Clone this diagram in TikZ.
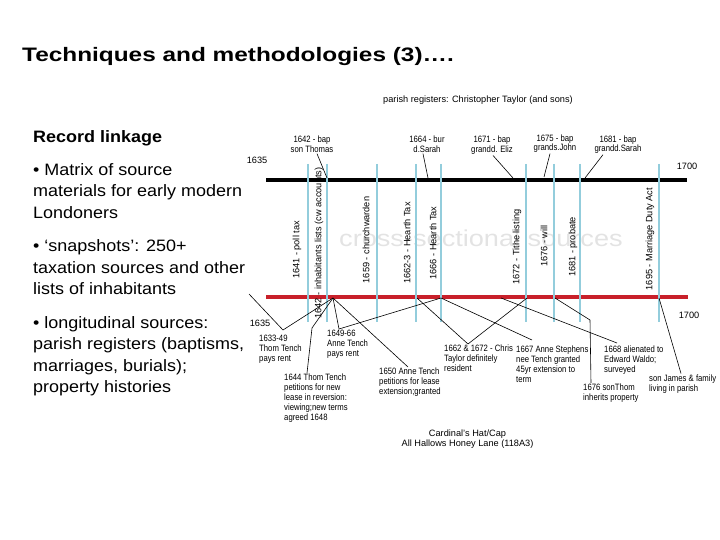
\documentclass[tikz,border=0pt]{standalone}
\usepackage{fontspec}
\setmainfont{Liberation Sans}
\newfontfamily\widefont[FakeStretch=1.09]{Liberation Sans}
\newfontfamily\titlefont[FakeStretch=1.25]{Liberation Sans}
\newfontfamily\markfont[FakeStretch=1.18]{Liberation Sans}
\newfontfamily\notefam[FakeStretch=0.84]{Liberation Sans}
\usetikzlibrary{positioning}
\definecolor{srcblue}{HTML}{93CDDC}
\definecolor{barred}{HTML}{C8202A}

\begin{document}
\begin{tikzpicture}[x=1pt, y=-1pt,
  every node/.style={inner sep=0pt},
  heading/.style={font=\titlefont\bfseries\fontsize{19.5}{23}\selectfont, anchor=base west},
  body/.style={font=\widefont\fontsize{16.5}{21.5}\selectfont, align=left, anchor=north west},
  note/.style={font=\notefam\fontsize{9.2}{10}\selectfont, inner sep=1pt, align=left, anchor=north west},
  topnote/.style={note, font=\notefam\fontsize{9.2}{9.5}\selectfont, align=center, anchor=north},
  yearlbl/.style={font=\fontsize{9.2}{10}\selectfont},
  srcline/.style={draw=srcblue, line width=2pt},
  barline/.style={line width=4.5pt},
  leader/.style={line width=0.6pt},
]
\useasboundingbox (0,0) rectangle (720,540);

% left column
\node[heading] (title) at (22,62) {Techniques and methodologies (3)….};
\node[heading, font=\widefont\bfseries\fontsize{16.5}{20}\selectfont] (rec) at (33,143) {Record linkage};
\node[body] (p1) at (33,163) {• Matrix of source\\materials for early modern\\Londoners};
\node[body, below right=21pt and 0pt of p1.south west] (p2) {• ‘snapshots’: 250+\\taxation sources and other\\lists of inhabitants};
\node[body, below right=21pt and 0pt of p2.south west] (p3) {• longitudinal sources:\\parish registers (baptisms,\\marriages, burials);\\property histories};

% timeline
\node[font=\markfont\fontsize{23}{26}\selectfont, text=black!11] (mark) at (481,238) {cross-sectional sources};
\node[yearlbl] (reg) at (478,100) {parish registers: Christopher Taylor (and sons)};
\draw[barline, black] (266,180) -- (687,180);
\draw[barline, barred] (266,297) -- (688,297);
\node[yearlbl] (y1) at (257,160) {1635};
\node[yearlbl] (y2) at (687,166) {1700};
\node[yearlbl] (y3) at (260,323) {1635};
\node[yearlbl] (y4) at (689,315) {1700};

\foreach \xl/\xs/\yc/\txt [count=\i] in {297/308/250/{1641 - poll tax},
    319/327/243/{1642 - inhabitants lists (cw accounts)},
    366/377/240/{1659 - churchwarden}, 407/416/243/{1662-3 - Hearth Tax},
    433/441/243/{1666 - Hearth Tax}, 517/526/247/{1672 - Tithe listing},
    544/554/246/{1676 - will}, 573/580/247/{1681 - probate},
    650/659/239/{1695 - Marriage Duty Act}}
{
  \draw[srcline] (\xs,164) -- (\xs,322);
  \node[yearlbl, rotate=90] (s\i) at (\xl,\yc) {\txt};
}

% baptisms and burials
\node[topnote] (b1642) at (312,135) {1642 - bap\\son Thomas};
\node[topnote] (b1664) at (427,135) {1664 - bur\\d.Sarah};
\node[topnote] (b1671) at (492,135) {1671 - bap\\grandd. Eliz};
\node[topnote] (b1675) at (555,133.2) {1675 - bap\\grands.John};
\node[topnote] (b1681) at (618,134.2) {1681 - bap\\grandd.Sarah};
\coordinate (k1642) at (327,178);
\coordinate (k1664) at (428,178);
\coordinate (k1671) at (513,178);
\coordinate (k1675) at (544,177);
\coordinate (k1681) at (585,178);
\draw[leader] ([xshift=5pt]b1642.south) -- (k1642);
\draw[leader] ([xshift=-4pt]b1664.south) -- (k1664);
\draw[leader] ([xshift=1pt]b1671.south) -- (k1671);
\draw[leader] ([xshift=-5pt]b1675.south) -- (k1675);
\draw[leader] ([xshift=-15pt]b1681.south) -- (k1681);

% property history
\node[note] (t1633) at (258,334) {1633-49\\Thom Tench\\pays rent};
\node[note] (t1649) at (326,329) {1649-66\\Anne Tench\\pays rent};
\node[note] (t1644) at (283,373) {1644 Thom Tench\\petitions for new\\lease in reversion:\\viewing;new terms\\agreed 1648};
\node[note] (t1650) at (378,367) {1650 Anne Tench\\petitions for lease\\extension;granted};
\node[note] (t1662) at (443,344) {1662 \& 1672 - Chris\\Taylor definitely\\resident};
\node[note] (t1667) at (515,345) {1667 Anne Stephens\\nee Tench granted\\45yr extension to\\term};
\node[note] (t1668) at (603,345) {1668 alienated to\\Edward Waldo;\\surveyed};
\node[note] (t1676) at (582,383) {1676 sonThom\\inherits property};
\node[note] (tjames) at (648,373.5) {son James \& family\\living in parish};
\node[yearlbl, align=center] (site) at (467.5,439.5) {Cardinal's Hat/Cap\\All Hallows Honey Lane (118A3)};

\coordinate (r1633) at (249,294);
\coordinate (v1633) at (283,330);
\coordinate (j1642) at (333,298);
\coordinate (k1644) at (312,328);
\coordinate (r1662) at (417,298);
\coordinate (r1666) at (441,298);
\coordinate (r1668) at (501,298);
\coordinate (r1672) at (527,298);
\coordinate (r1676) at (555,298);
\coordinate (k1676) at (590,320);
\coordinate (r1695) at (659,298);
\draw[leader] (r1633) -- (v1633) -- (j1642);
\draw[leader] ([xshift=24pt]t1644.north west) -- (k1644) -- (j1642);
\draw[leader] (j1642) -- ([xshift=13pt]t1649.north west) -- (r1666);
\draw[leader] (j1642) -- ([xshift=30pt]t1650.north west);
\draw[leader] (r1662) -- ([xshift=25pt]t1662.north west) -- (r1672);
\draw[leader] (r1666) -- ([xshift=17pt,yshift=5pt]t1667.north west);
\draw[leader] (r1668) -- ([xshift=14pt,yshift=2pt]t1668.north west);
\draw[leader] (r1676) -- (k1676) -- ([xshift=9pt]t1676.north west);
\draw[leader] (r1695) -- ([xshift=33pt]tjames.north west);
\end{tikzpicture}
\end{document}
